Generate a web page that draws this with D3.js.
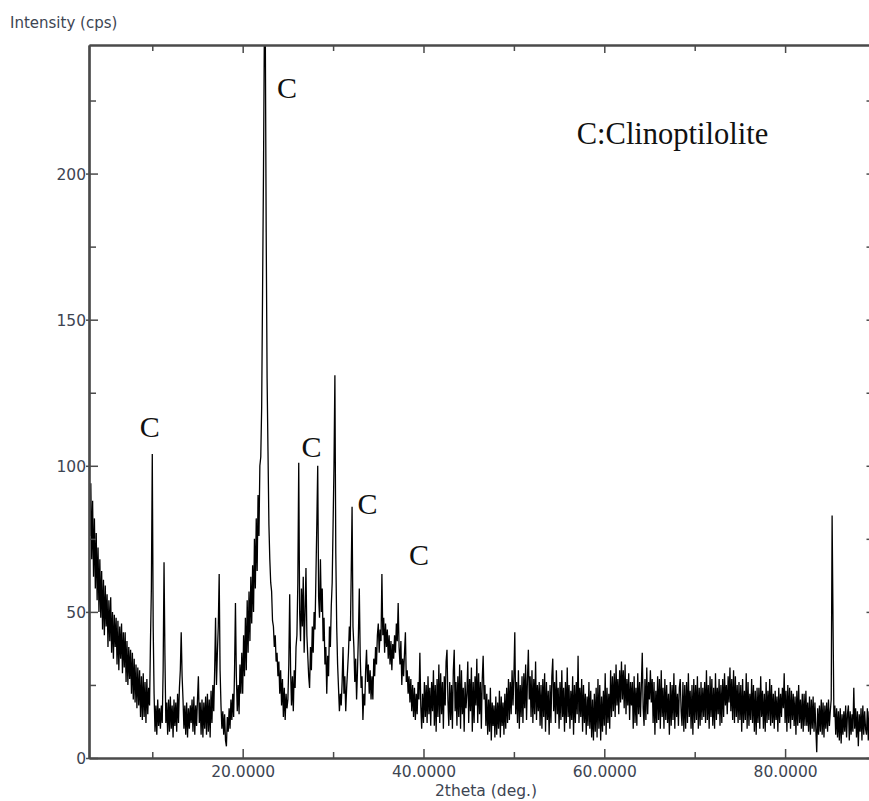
<!DOCTYPE html>
<html>
<head>
<meta charset="utf-8">
<script src="https://cdn.jsdelivr.net/npm/d3@7"></script>
<style>
  body { margin: 0; background: #fff; }
  svg { display: block; }
</style>
</head>
<body>
<svg id="chart" width="869" height="801"></svg>
<script>
// Step scan: first angle and step width in degrees 2theta
const scanStart = 3.0;
const scanStep = 0.1;

// Measured intensity (cps), one value per step from 3.0 to 90.0 deg (20 steps per row)
const counts = [
  104, 76, 94, 68, 88, 62, 82, 58, 77, 54,   72, 50, 68, 48, 64, 44, 61, 42, 59, 45,
  56, 38, 54, 40, 55, 36, 50, 34, 49, 38,    48, 32, 47, 30, 45, 34, 46, 29, 43, 31,
  43, 26, 40, 25, 38, 27, 37, 22, 36, 20,    34, 19, 32, 17, 31, 18, 30, 14, 28, 13,
  29, 14, 26, 12, 27, 15, 24, 18, 40, 58,    104, 45, 22, 9, 18, 8, 20, 11, 17, 10,
  18, 12, 30, 67, 35, 12, 19, 8, 20, 9,      21, 10, 18, 7, 20, 11, 19, 9, 22, 12,
  24, 30, 43, 28, 20, 10, 18, 8, 19, 7,      17, 10, 18, 12, 20, 9, 21, 8, 18, 11,
  20, 28, 12, 19, 8, 20, 7, 19, 10, 21,      8, 22, 9, 20, 7, 23, 12, 25, 16, 30,
  48, 25, 36, 45, 63, 30, 18, 10, 16, 8,     15, 6, 4, 14, 9, 17, 10, 20, 13, 22,
  14, 30, 53, 28, 16, 25, 15, 32, 22, 36,    22, 42, 28, 48, 30, 54, 36, 57, 40, 62,
  46, 66, 50, 75, 58, 82, 64, 90, 76, 100,   103, 120, 160, 200, 250, 250, 180, 130, 105, 80,
  68, 60, 57, 47, 45, 38, 42, 33, 36, 28,    33, 22, 30, 18, 27, 14, 24, 13, 22, 17,
  20, 32, 56, 30, 18, 28, 16, 30, 24, 38,    42, 60, 101, 50, 40, 58, 45, 62, 36, 50,
  65, 42, 35, 28, 24, 38, 30, 45, 36, 50,    44, 62, 80, 100, 55, 48, 68, 50, 58, 40,
  48, 32, 38, 22, 35, 28, 45, 38, 52, 60,    80, 100, 131, 70, 45, 32, 24, 16, 22, 18,
  26, 38, 22, 28, 16, 24, 30, 36, 45, 40,    62, 86, 45, 38, 26, 34, 20, 30, 42, 58,
  35, 24, 28, 13, 22, 18, 30, 37, 26, 32,    22, 30, 20, 28, 20, 34, 28, 38, 32, 42,
  46, 36, 44, 40, 63, 42, 48, 36, 46, 38,    44, 34, 42, 32, 40, 30, 39, 34, 42, 36,
  46, 40, 53, 38, 32, 40, 25, 34, 28, 36,    43, 26, 30, 22, 28, 19, 27, 16, 25, 14,
  24, 13, 22, 15, 26, 20, 36, 18, 10, 22,    12, 26, 14, 25, 12, 28, 15, 24, 11, 26,
  16, 30, 11, 25, 9, 27, 14, 32, 12, 29,     15, 26, 10, 28, 18, 33, 37, 20, 11, 26,
  13, 25, 10, 30, 37, 16, 26, 11, 28, 14,    32, 10, 30, 15, 24, 9, 26, 17, 22, 33,
  12, 27, 16, 31, 9, 26, 12, 28, 18, 34,     12, 29, 15, 26, 10, 27, 35, 20, 25, 11,
  22, 8, 20, 9, 24, 6, 19, 11, 18, 7,        21, 8, 19, 10, 23, 7, 21, 11, 19, 8,
  22, 10, 24, 12, 27, 13, 26, 15, 30, 18,    28, 43, 15, 26, 12, 30, 10, 25, 14, 28,
  12, 29, 17, 32, 13, 27, 37, 20, 28, 14,    30, 12, 27, 15, 33, 13, 25, 16, 26, 11,
  25, 10, 27, 14, 29, 9, 26, 13, 23, 8,      25, 12, 28, 34, 16, 26, 12, 30, 15, 24,
  10, 26, 13, 30, 14, 24, 9, 26, 12, 31,     14, 25, 10, 23, 13, 28, 8, 25, 12, 26,
  15, 35, 12, 24, 14, 27, 9, 25, 12, 22,     8, 21, 11, 26, 10, 23, 7, 20, 6, 22,
  9, 24, 7, 27, 10, 25, 6, 21, 9, 23,        11, 29, 8, 24, 12, 22, 10, 30, 14, 28,
  16, 29, 14, 32, 18, 27, 15, 30, 19, 33,    20, 30, 17, 32, 15, 27, 18, 29, 13, 26,
  18, 26, 10, 28, 12, 24, 11, 29, 15, 26,    14, 25, 36, 17, 11, 27, 13, 31, 15, 26,
  20, 30, 19, 27, 12, 26, 8, 23, 12, 28,     13, 27, 10, 30, 14, 24, 10, 27, 13, 25,
  12, 22, 8, 26, 11, 25, 13, 29, 10, 25,     14, 22, 11, 24, 27, 16, 11, 26, 9, 25,
  10, 26, 12, 29, 14, 23, 10, 25, 8, 27,     12, 25, 13, 28, 10, 24, 11, 26, 13, 24,
  14, 26, 12, 30, 13, 25, 10, 28, 14, 27,    11, 24, 10, 29, 13, 24, 15, 27, 11, 25,
  12, 27, 14, 29, 18, 25, 15, 28, 19, 31,    16, 27, 13, 30, 12, 28, 14, 25, 12, 26,
  13, 25, 9, 27, 12, 23, 13, 29, 10, 26,     11, 22, 13, 27, 12, 25, 9, 23, 8, 24,
  12, 24, 10, 28, 14, 23, 10, 22, 9, 26,     12, 23, 13, 27, 11, 25, 12, 22, 10, 23,
  13, 21, 9, 24, 12, 22, 14, 24, 17, 29,     12, 23, 9, 25, 12, 24, 10, 23, 13, 22,
  11, 21, 8, 23, 11, 25, 12, 20, 10, 22,     9, 22, 11, 23, 11, 19, 9, 21, 8, 20,
  10, 21, 9, 19, 10, 2, 17, 8, 18, 9,        20, 8, 19, 7, 18, 10, 19, 9, 20, 11,
  16, 20, 83, 47, 14, 18, 8, 17, 7, 16,      6, 17, 5, 15, 8, 16, 9, 18, 7, 15,
  18, 6, 16, 8, 15, 9, 24, 10, 17, 7,        16, 4, 15, 9, 17, 6, 18, 8, 16, 10,
  8, 17, 6, 16, 5, 14, 9, 15, 7, 16, 12
];

// Axis ticks
const xMajorTicks = [20, 40, 60, 80];
const xMinorTicks = [10, 30, 50, 70, 90];
const yMajorTicks = [0, 50, 100, 150, 200];
const yMinorTicks = [25, 75, 125, 175, 225];
const yRightTicks = [0, 25, 50, 75, 100, 125, 150, 175, 200, 225];

// Phase marks (angle, intensity at the letter baseline)
const markText = ["C", "C", "C", "C", "C"];
const markAngle = [23.8, 8.6, 26.5, 32.7, 38.4];
const markCount = [226, 110, 103, 83.5, 66];
const legendText = "C:Clinoptilolite";
const legendAngle = 56.95;
const legendCount = 210;

const xTitle = "2theta (deg.)";
const yTitle = "Intensity (cps)";

const svg = d3.select("#chart");
const plotLeft = 89, plotRight = 875.5, plotTop = 45, plotBottom = 758;

const x = d3.scaleLinear().domain([3, 90]).range([plotLeft, plotRight]);
const y = d3.scaleLinear().domain([0, 244]).range([plotBottom, plotTop]);

const frameColor = "#4a4a4a";
const labelColor = "#3d4552";
const sansFont = "'DejaVu Sans', sans-serif";
const serifFont = "'Liberation Serif', 'Times New Roman', serif";

const pattern = counts.map((c, i) => ({ angle: scanStart + i * scanStep, count: c }));

// Clip the trace to the plotting frame
svg.append("defs").append("clipPath").attr("id", "plotClip")
  .append("rect").attr("x", plotLeft).attr("y", plotTop)
  .attr("width", plotRight - plotLeft).attr("height", plotBottom - plotTop);

const line = d3.line().x(d => x(d.angle)).y(d => y(d.count));
svg.append("path")
  .datum(pattern)
  .attr("clip-path", "url(#plotClip)")
  .attr("fill", "none")
  .attr("stroke", "#000")
  .attr("stroke-width", 1.3)
  .attr("stroke-linejoin", "bevel")
  .attr("d", line);

function styleAxis(g, width) {
  g.select(".domain").attr("stroke", frameColor).attr("stroke-width", width);
  g.selectAll(".tick line").attr("stroke", frameColor).attr("stroke-width", 1.5);
  g.selectAll(".tick text")
    .attr("fill", labelColor)
    .style("font-family", sansFont)
    .style("font-size", "15.5px");
}

// Bottom axis with inward ticks
const bottomMajor = svg.append("g").attr("transform", `translate(0,${plotBottom})`)
  .call(d3.axisBottom(x).tickValues(xMajorTicks).tickSize(-9).tickSizeOuter(0)
    .tickPadding(7).tickFormat(d3.format(".4f")));
styleAxis(bottomMajor, 2.2);
bottomMajor.selectAll(".tick text").attr("dy", "0.76em");
const bottomMinor = svg.append("g").attr("transform", `translate(0,${plotBottom})`)
  .call(d3.axisBottom(x).tickValues(xMinorTicks).tickSize(-6).tickSizeOuter(0).tickFormat(""));
styleAxis(bottomMinor, 2.2);

// Top frame with inward ticks
const topMajor = svg.append("g").attr("transform", `translate(0,${plotTop})`)
  .call(d3.axisTop(x).tickValues(xMajorTicks).tickSize(-8).tickSizeOuter(0).tickFormat(""));
styleAxis(topMajor, 2.2);
const topMinor = svg.append("g").attr("transform", `translate(0,${plotTop})`)
  .call(d3.axisTop(x).tickValues(xMinorTicks).tickSize(-6).tickSizeOuter(0).tickFormat(""));
styleAxis(topMinor, 2.2);

// Left axis: major ticks cross the line slightly
const leftMajor = svg.append("g").attr("transform", `translate(${plotLeft},0)`)
  .call(d3.axisLeft(y).tickValues(yMajorTicks).tickSize(-9).tickSizeOuter(0)
    .tickPadding(3).tickFormat(d3.format("d")));
styleAxis(leftMajor, 2.2);
leftMajor.selectAll(".tick line").attr("x1", -3);
leftMajor.selectAll(".tick text").attr("x", -3).attr("dy", "0.36em");
const leftMinor = svg.append("g").attr("transform", `translate(${plotLeft},0)`)
  .call(d3.axisLeft(y).tickValues(yMinorTicks).tickSize(-7).tickSizeOuter(0).tickFormat(""));
styleAxis(leftMinor, 2.2);

// Right frame with inward ticks
const rightAxis = svg.append("g").attr("transform", `translate(${plotRight},0)`)
  .call(d3.axisRight(y).tickValues(yRightTicks).tickSize(-9).tickSizeOuter(0).tickFormat(""));
styleAxis(rightAxis, 2.2);

// Axis titles
svg.append("text")
  .attr("x", 10).attr("y", 28)
  .attr("fill", labelColor)
  .style("font-family", sansFont).style("font-size", "15px")
  .text(yTitle);

svg.append("text")
  .attr("x", 486).attr("y", 796)
  .attr("text-anchor", "middle")
  .attr("fill", labelColor)
  .style("font-family", sansFont).style("font-size", "15.5px")
  .text(xTitle);

// Peak marks
svg.append("g").selectAll("text")
  .data(markText.map((t, i) => ({ t, a: markAngle[i], c: markCount[i] })))
  .join("text")
  .attr("x", d => x(d.a))
  .attr("y", d => y(d.c))
  .attr("fill", "#111")
  .style("font-family", serifFont)
  .style("font-size", "30px")
  .text(d => d.t);

svg.append("text")
  .attr("x", x(legendAngle)).attr("y", y(legendCount))
  .attr("fill", "#111")
  .style("font-family", serifFont)
  .style("font-size", "30.5px")
  .text(legendText);
</script>
</body>
</html>
